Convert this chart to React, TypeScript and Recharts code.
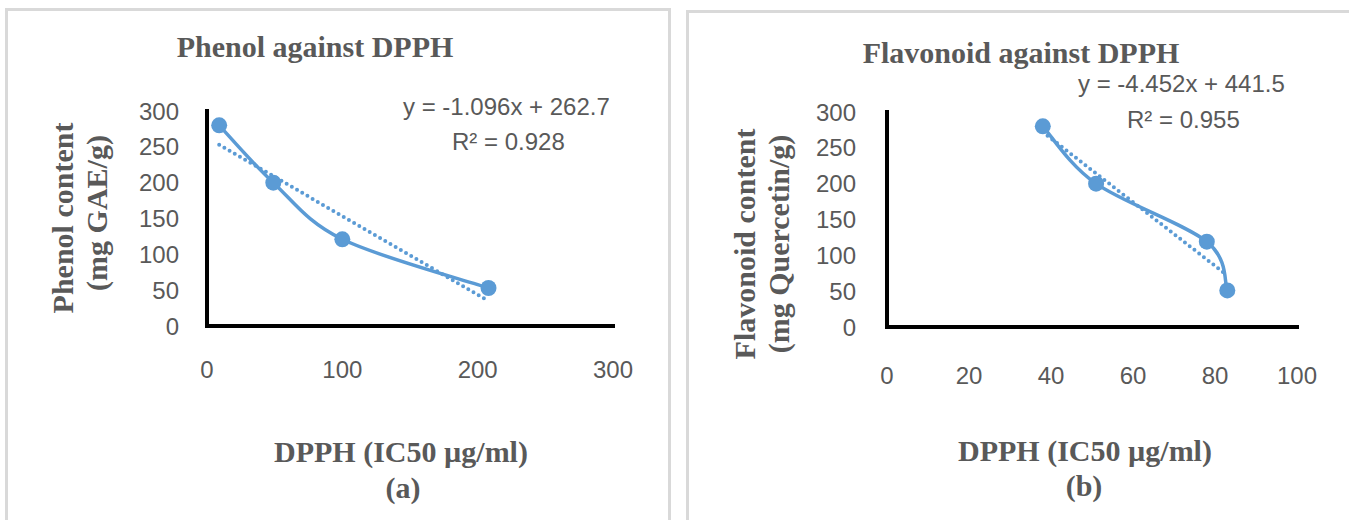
import React from 'react';
import { ComposedChart, Line, XAxis, YAxis } from 'recharts';

// Panel (a): Phenol against DPPH
const phenolX = [9, 49, 100, 208];
const phenolY = [280, 200, 121, 53];
const phenolTrendX = [9, 208];
const phenolTrendY = [253, 35];
const phenolXTicks = [0, 100, 200, 300];

// Panel (b): Flavonoid against DPPH
const flavX = [38, 51, 78, 83];
const flavY = [280, 200, 119, 51];
const flavTrendX = [38, 83];
const flavTrendY = [272, 72];
const flavXTicks = [0, 20, 40, 60, 80, 100];

const yTicks = [0, 50, 100, 150, 200, 250, 300];

const BLUE = '#5B9BD5';
const GRAY = '#595959';
const SANS = '"Liberation Sans", Arial, sans-serif';
const SERIF = '"Liberation Serif", "Times New Roman", serif';

const zip = (xs: number[], ys: number[]) => xs.map((x, i) => ({ x, y: ys[i] }));

// Smoothed line in the style of a spreadsheet "smoothed line" (Catmull-Rom through the points)
function smoothCurve(context: any) {
  let pts: [number, number][] = [];
  return {
    areaStart() {},
    areaEnd() {},
    lineStart() {
      pts = [];
    },
    lineEnd() {
      if (!pts.length) return;
      context.moveTo(pts[0][0], pts[0][1]);
      for (let i = 0; i < pts.length - 1; i++) {
        const p0 = pts[i - 1] || pts[i];
        const p1 = pts[i];
        const p2 = pts[i + 1];
        const p3 = pts[i + 2] || p2;
        context.bezierCurveTo(
          p1[0] + (p2[0] - p0[0]) / 6,
          p1[1] + (p2[1] - p0[1]) / 6,
          p2[0] - (p3[0] - p1[0]) / 6,
          p2[1] - (p3[1] - p1[1]) / 6,
          p2[0],
          p2[1]
        );
      }
    },
    point(x: number, y: number) {
      pts.push([+x, +y]);
    },
  };
}

type PanelProps = {
  left: number;
  width: number;
  margin: { top: number; right: number; bottom: number; left: number };
  xs: number[];
  ys: number[];
  tx: number[];
  ty: number[];
  xMax: number;
  xTicks: number[];
  yTickMargin: number;
  xTickMargin: number;
};

function Panel(p: PanelProps) {
  const data = zip(p.xs, p.ys);
  const trend = zip(p.tx, p.ty);
  const tick = { fontSize: 24, fill: GRAY, fontFamily: SANS };
  const axisLine = { stroke: '#000', strokeWidth: 4, strokeLinecap: 'square' as const };
  return (
    <div style={{ position: 'absolute', left: p.left, top: 0 }}>
      <ComposedChart width={p.width} height={520} margin={p.margin}>
        <XAxis
          type="number"
          dataKey="x"
          domain={[0, p.xMax]}
          ticks={p.xTicks}
          interval={0}
          tickLine={false}
          axisLine={axisLine}
          tick={tick}
          tickMargin={p.xTickMargin}
          height={60}
          allowDataOverflow
        />
        <YAxis
          type="number"
          dataKey="y"
          domain={[0, 300]}
          ticks={yTicks}
          interval={0}
          tickLine={false}
          axisLine={axisLine}
          tick={tick}
          tickMargin={p.yTickMargin}
          width={60}
        />
        <Line
          data={data}
          dataKey="y"
          type={smoothCurve as any}
          stroke={BLUE}
          strokeWidth={3.5}
          dot={{ r: 8, fill: BLUE, stroke: BLUE, strokeWidth: 0 }}
          activeDot={false}
          isAnimationActive={false}
        />
        <Line
          data={trend}
          dataKey="y"
          type="linear"
          stroke={BLUE}
          strokeWidth={4}
          strokeDasharray="0 6"
          strokeLinecap="round"
          dot={false}
          activeDot={false}
          isAnimationActive={false}
        />
      </ComposedChart>
    </div>
  );
}

export default function App() {
  const titleStyle = { fontFamily: SERIF, fontWeight: 700, fontSize: 30, fill: GRAY } as const;
  const eqStyle = { fontFamily: SANS, fontSize: 24, fill: GRAY } as const;
  return (
    <div style={{ position: 'absolute', left: 0, top: 0, width: 1349, height: 520, background: '#fff', overflow: 'hidden' }}>
      <div style={{ position: 'absolute', left: 5, top: 8, width: 660, height: 540, border: '3px solid #d9d9d9' }} />
      <div style={{ position: 'absolute', left: 686, top: 10, width: 700, height: 540, border: '3px solid #d9d9d9' }} />
      <Panel
        left={0}
        width={680}
        margin={{ top: 111, right: 67, bottom: 134, left: 147 }}
        xs={phenolX}
        ys={phenolY}
        tx={phenolTrendX}
        ty={phenolTrendY}
        xMax={300}
        xTicks={phenolXTicks}
        yTickMargin={22}
        xTickMargin={29}
      />
      <Panel
        left={680}
        width={669}
        margin={{ top: 112, right: 52, bottom: 133, left: 147 }}
        xs={flavX}
        ys={flavY}
        tx={flavTrendX}
        ty={flavTrendY}
        xMax={100}
        xTicks={flavXTicks}
        yTickMargin={25}
        xTickMargin={34}
      />
      <svg width={1349} height={520} style={{ position: 'absolute', left: 0, top: 0, pointerEvents: 'none' }}>
        <text x={315} y={57} textAnchor="middle" style={titleStyle}>Phenol against DPPH</text>
        <text x={1021} y={63} textAnchor="middle" style={titleStyle}>Flavonoid against DPPH</text>

        <text x={403} y={115} style={eqStyle}>y = -1.096x + 262.7</text>
        <text x={452} y={150} style={eqStyle}>R² = 0.928</text>
        <text x={1078} y={92} style={eqStyle}>y = -4.452x + 441.5</text>
        <text x={1127} y={128} style={eqStyle}>R² = 0.955</text>

        <text x={401} y={462} textAnchor="middle" style={titleStyle}>DPPH (IC50 µg/ml)</text>
        <text x={403} y={498} textAnchor="middle" style={titleStyle}>(a)</text>
        <text x={1085} y={461} textAnchor="middle" style={titleStyle}>DPPH (IC50 µg/ml)</text>
        <text x={1084} y={496} textAnchor="middle" style={titleStyle}>(b)</text>

        <text transform="translate(73,218) rotate(-90)" textAnchor="middle" style={titleStyle}>Phenol content</text>
        <text transform="translate(107,213) rotate(-90)" textAnchor="middle" style={titleStyle}>(mg GAE/g)</text>
        <text transform="translate(755,244) rotate(-90)" textAnchor="middle" style={titleStyle}>Flavonoid content</text>
        <text transform="translate(789,244) rotate(-90)" textAnchor="middle" style={titleStyle}>(mg Quercetin/g)</text>
      </svg>
    </div>
  );
}
